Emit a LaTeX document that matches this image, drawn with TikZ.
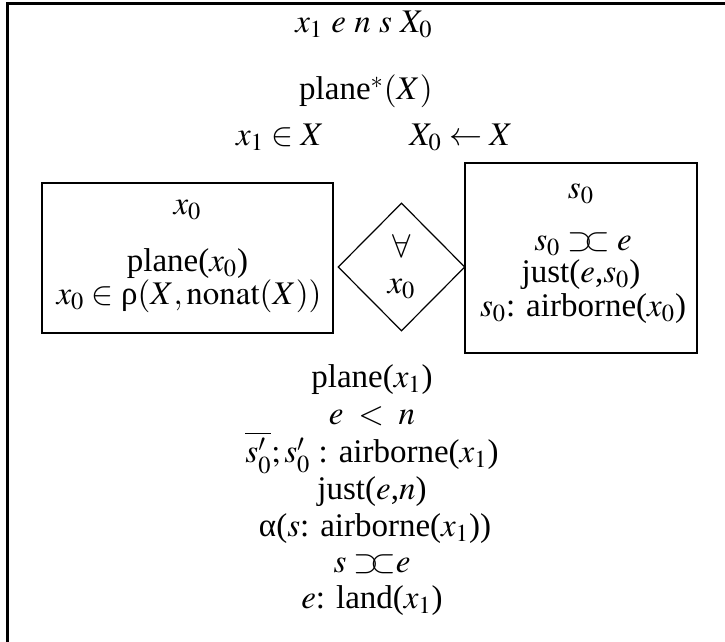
\documentclass[tikz,border=0pt]{standalone}
\usepackage{mathptmx}
\usepackage[no-math]{fontspec}
\setmainfont{Liberation Serif}
\usetikzlibrary{shapes.geometric}
\newcommand{\ovl}{\mathrel{\supset\mkern-5mu\subset}}
\begin{document}
\begin{tikzpicture}[x=0.5pt,y=-0.5pt,
  every node/.style={font=\fontsize{16.5}{19}\selectfont},
  txt/.style={anchor=base,inner sep=0pt,outer sep=0pt},
  boxline/.style={draw,line width=1.2pt,inner sep=0pt},
  frameline/.style={line width=1.5pt}]
\useasboundingbox (0,0) rectangle (725,642);
\clip (0,0) rectangle (725,642);
% outer frame (cropped)
\draw[frameline] (8,700) -- (8,4) -- (760,4);
% top texts
\node[txt] (t1) at (364,33) {$x_1$ $e$ $n$ $s$ $X_0$};
\node[txt] (t2) at (366,100) {plane$^*(X)$};
\node[txt] (t3) at (280,146) {$x_1 \in X$};
\node[txt] (t4) at (461,146) {$X_0 \leftarrow X$};
% left box
\node[boxline,minimum width=145.5pt,minimum height=75pt] (lbox) at (187.5,258) {};
\node[txt] (l1) at (187.5,215) {$x_0$};
\node[txt] (l2) at (187.5,272) {plane($x_0$)};
\node[txt] (l3) at (189,305) {$x_0 \in{}$ρ$(X, \mathrm{nonat}(X))$};
% diamond
\node[draw,diamond,line width=0.6pt,inner sep=0pt,minimum width=63.5pt,minimum height=64pt] (dia) at (401.5,267) {};
\node[txt] (d1) at (401.5,258) {$\forall$};
\node[txt] (d2) at (401.5,294) {$x_0$};
% right box
\node[boxline,minimum width=116pt,minimum height=95pt] (rbox) at (581,258) {};
\node[txt] (r1) at (581,199) {$s_0$};
\node[txt] (r2) at (583,251) {$s_0 \ovl e$};
\node[txt] (r3) at (581,283) {just($e$,$s_0$)};
\node[txt] (r4) at (583,317) {$s_0$: airborne($x_0$)};
% bottom list
\node[txt] (b1) at (372,388) {plane($x_1$)};
\node[txt] (b2) at (372,425) {$e \;<\; n$};
\node[txt] (b3) at (372,463) {$\overline{s'_0};s'_0$ : airborne($x_1$)};
\node[txt] (b4) at (372,500) {just($e$,$n$)};
\node[txt] (b5) at (375,537) {α($s$: airborne($x_1$))};
\node[txt] (b6) at (372,573) {$s \ovl\!\! e$};
\node[txt] (b7) at (372,609) {$e$: land($x_1$)};
\end{tikzpicture}
\end{document}
